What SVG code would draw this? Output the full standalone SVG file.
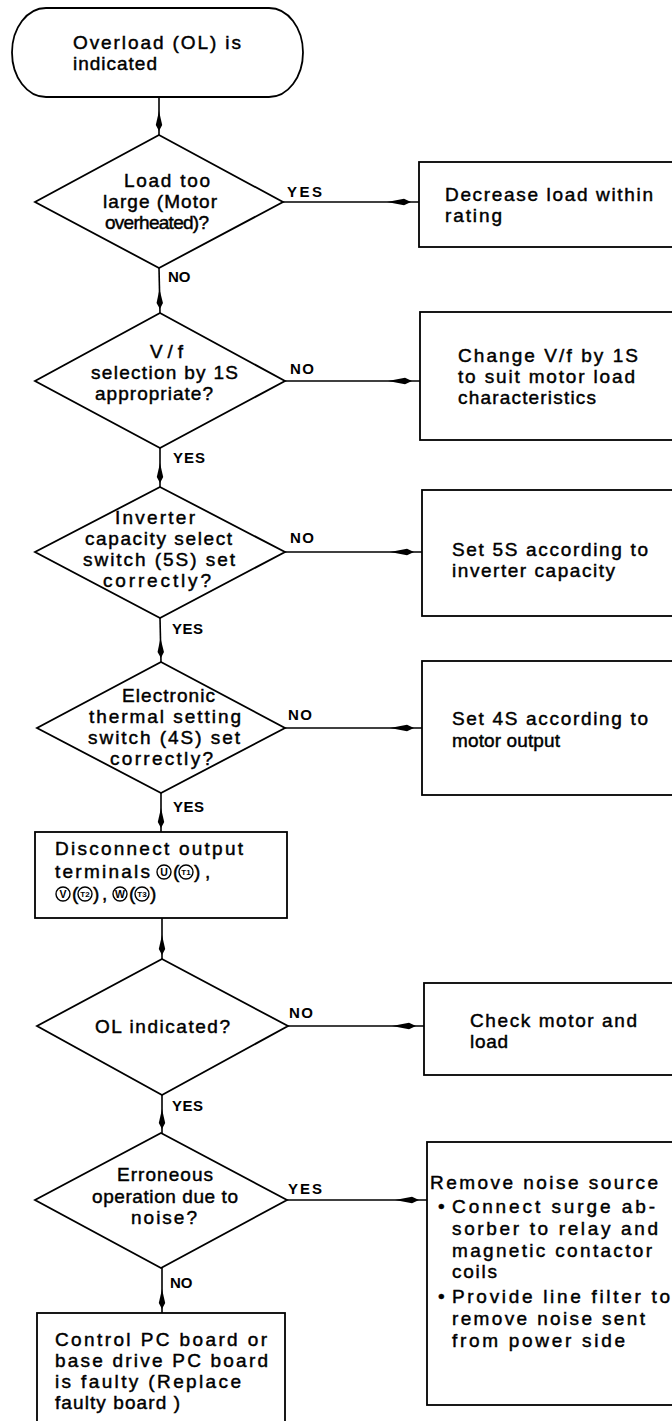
<svg xmlns="http://www.w3.org/2000/svg" width="672" height="1421" viewBox="0 0 672 1421">
<style>
.bg{fill:#fff}
.shape{fill:#fff;stroke:#000;stroke-width:1.8}
.line{fill:none;stroke:#000;stroke-width:1.6}
.t{font-family:"Liberation Sans",Arial,Helvetica,sans-serif;font-size:19px;fill:#000;stroke:#000;stroke-width:0.45}
.lbl{font-family:"Liberation Sans",Arial,Helvetica,sans-serif;font-size:15px;font-weight:bold;fill:#000}
.ct{font-family:"Liberation Sans",Arial,Helvetica,sans-serif;font-weight:bold;fill:#000;text-anchor:middle}
.circ{fill:none;stroke:#000;stroke-width:1.4}
</style>
<defs>
<marker id="av" markerUnits="userSpaceOnUse" orient="auto" refX="4" refY="0" markerWidth="22" markerHeight="8" overflow="visible">
<polygon points="-20,0 -6,-3.2 0,0 -6,3.2" fill="#000"/>
</marker>
<marker id="ah" markerUnits="userSpaceOnUse" orient="auto" refX="8" refY="0" markerWidth="26" markerHeight="8" overflow="visible">
<polygon points="-24,0 -7,-3.2 0,0 -7,3.2" fill="#000"/>
</marker>
</defs>
<rect class="bg" x="0" y="0" width="672" height="1421"/>

<g id="connectors">
<line class="line" x1="159" y1="97" x2="159" y2="135" marker-end="url(#av)"/>
<line class="line" x1="159" y1="268" x2="160" y2="313" marker-end="url(#av)"/>
<line class="line" x1="160" y1="448" x2="160" y2="487" marker-end="url(#av)"/>
<line class="line" x1="160" y1="618" x2="161" y2="662" marker-end="url(#av)"/>
<line class="line" x1="161" y1="793" x2="161" y2="832" marker-end="url(#av)"/>
<line class="line" x1="162" y1="918" x2="162" y2="959" marker-end="url(#av)"/>
<line class="line" x1="162" y1="1095" x2="162" y2="1133" marker-end="url(#av)"/>
<line class="line" x1="162" y1="1268" x2="162" y2="1313" marker-end="url(#av)"/>
<line class="line" x1="283" y1="202" x2="419" y2="202" marker-end="url(#ah)"/>
<line class="line" x1="285" y1="381" x2="420" y2="381" marker-end="url(#ah)"/>
<line class="line" x1="285" y1="552" x2="422" y2="552" marker-end="url(#ah)"/>
<line class="line" x1="285" y1="728" x2="422" y2="728" marker-end="url(#ah)"/>
<line class="line" x1="288" y1="1026" x2="424" y2="1026" marker-end="url(#ah)"/>
<line class="line" x1="287" y1="1200" x2="427" y2="1200" marker-end="url(#ah)"/>
<text class="lbl" x="287" y="197" textLength="35" lengthAdjust="spacing">YES</text>
<text class="lbl" x="168" y="282">NO</text>
<text class="lbl" x="290" y="374" textLength="24" lengthAdjust="spacing">NO</text>
<text class="lbl" x="173" y="463" textLength="32" lengthAdjust="spacing">YES</text>
<text class="lbl" x="290" y="543" textLength="24" lengthAdjust="spacing">NO</text>
<text class="lbl" x="172" y="634" textLength="31" lengthAdjust="spacing">YES</text>
<text class="lbl" x="288" y="720" textLength="24" lengthAdjust="spacing">NO</text>
<text class="lbl" x="173" y="812" textLength="31" lengthAdjust="spacing">YES</text>
<text class="lbl" x="289" y="1018" textLength="24" lengthAdjust="spacing">NO</text>
<text class="lbl" x="172" y="1111" textLength="31" lengthAdjust="spacing">YES</text>
<text class="lbl" x="288" y="1194" textLength="34" lengthAdjust="spacing">YES</text>
<text class="lbl" x="170" y="1288">NO</text>
</g>

<g id="start">
<rect class="shape" x="12" y="8" width="291" height="89" rx="34" ry="44.5"/>
<text class="t" x="73" y="49" textLength="168" lengthAdjust="spacing">Overload (OL) is</text>
<text class="t" x="73" y="70" textLength="84" lengthAdjust="spacing">indicated</text>
</g>

<g id="d-load">
<polygon class="shape" points="159,135 283,202 159,268 35,202"/>
<text class="t" x="124" y="187" textLength="86" lengthAdjust="spacing">Load too</text>
<text class="t" x="103" y="208" textLength="114" lengthAdjust="spacing">large (Motor</text>
<text class="t" x="105" y="229" font-size="17.5" textLength="104" lengthAdjust="spacing">overheated)?</text>
</g>

<g id="b-decrease">
<rect class="shape" x="419" y="162" width="270" height="85"/>
<text class="t" x="445" y="201" textLength="208" lengthAdjust="spacing">Decrease load within</text>
<text class="t" x="445" y="222" textLength="57" lengthAdjust="spacing">rating</text>
</g>

<g id="d-vf">
<polygon class="shape" points="160,313 285,381 160,448 35,381"/>
<text class="t" x="150" y="358" textLength="33" lengthAdjust="spacing">V/f</text>
<text class="t" x="91" y="379" textLength="147" lengthAdjust="spacing">selection by 1S</text>
<text class="t" x="95" y="400" textLength="118" lengthAdjust="spacing">appropriate?</text>
</g>

<g id="b-vf">
<rect class="shape" x="420" y="312" width="270" height="128"/>
<text class="t" x="458" y="362" textLength="180" lengthAdjust="spacing">Change V/f by 1S</text>
<text class="t" x="458" y="383" textLength="177" lengthAdjust="spacing">to suit motor load</text>
<text class="t" x="458" y="404" textLength="138" lengthAdjust="spacing">characteristics</text>
</g>

<g id="d-5s">
<polygon class="shape" points="160,487 285,552 160,618 35,552"/>
<text class="t" x="115" y="524" textLength="80" lengthAdjust="spacing">Inverter</text>
<text class="t" x="85" y="545" textLength="147" lengthAdjust="spacing">capacity select</text>
<text class="t" x="83" y="566" textLength="152" lengthAdjust="spacing">switch (5S) set</text>
<text class="t" x="103" y="587" textLength="108" lengthAdjust="spacing">correctly?</text>
</g>

<g id="b-5s">
<rect class="shape" x="422" y="490" width="268" height="126"/>
<text class="t" x="452" y="556" textLength="196" lengthAdjust="spacing">Set 5S according to</text>
<text class="t" x="452" y="577" textLength="163" lengthAdjust="spacing">inverter capacity</text>
</g>

<g id="d-4s">
<polygon class="shape" points="161,662 285,728 161,793 37,728"/>
<text class="t" x="122" y="702" textLength="93" lengthAdjust="spacing">Electronic</text>
<text class="t" x="89" y="723" textLength="152" lengthAdjust="spacing">thermal setting</text>
<text class="t" x="88" y="744" textLength="152" lengthAdjust="spacing">switch (4S) set</text>
<text class="t" x="110" y="765" textLength="103" lengthAdjust="spacing">correctly?</text>
</g>

<g id="b-4s">
<rect class="shape" x="422" y="661" width="268" height="134"/>
<text class="t" x="452" y="725" textLength="196" lengthAdjust="spacing">Set 4S according to</text>
<text class="t" x="452" y="747" textLength="108" lengthAdjust="spacing">motor output</text>
</g>

<g id="b-disconnect">
<rect class="shape" x="35" y="832" width="252" height="86"/>
<text class="t" x="55" y="855" textLength="188" lengthAdjust="spacing">Disconnect output</text>
<text class="t" x="55" y="878" textLength="95" lengthAdjust="spacing">terminals</text>
<circle class="circ" cx="164" cy="872" r="7"/>
<text class="ct" x="164" y="876" font-size="10.5">U</text>
<text class="t" x="173" y="878">(</text>
<circle class="circ" cx="186" cy="872" r="7"/>
<text class="ct" x="186" y="875" font-size="8">T1</text>
<text class="t" x="194" y="878">)</text>
<text class="t" x="205" y="878">,</text>
<circle class="circ" cx="63" cy="894" r="7"/>
<text class="ct" x="63" y="898" font-size="10.5">V</text>
<text class="t" x="72" y="900">(</text>
<circle class="circ" cx="85" cy="894" r="7"/>
<text class="ct" x="85" y="897" font-size="8">T2</text>
<text class="t" x="93" y="900">)</text>
<text class="t" x="102" y="900">,</text>
<circle class="circ" cx="120" cy="894" r="7"/>
<text class="ct" x="120" y="898" font-size="10.5">W</text>
<text class="t" x="129" y="900">(</text>
<circle class="circ" cx="142" cy="894" r="7"/>
<text class="ct" x="142" y="897" font-size="8">T3</text>
<text class="t" x="150" y="900">)</text>
</g>

<g id="d-ol">
<polygon class="shape" points="162,959 288,1026 162,1095 37,1026"/>
<text class="t" x="95" y="1033" textLength="135" lengthAdjust="spacing">OL indicated?</text>
</g>

<g id="b-check">
<rect class="shape" x="424" y="983" width="266" height="92"/>
<text class="t" x="470" y="1027" textLength="167" lengthAdjust="spacing">Check motor and</text>
<text class="t" x="470" y="1048" textLength="38" lengthAdjust="spacing">load</text>
</g>

<g id="d-noise">
<polygon class="shape" points="161,1133 287,1200 161,1268 35,1200"/>
<text class="t" x="117" y="1181" textLength="96" lengthAdjust="spacing">Erroneous</text>
<text class="t" x="92" y="1203" textLength="146" lengthAdjust="spacing">operation due to</text>
<text class="t" x="131" y="1224" textLength="66" lengthAdjust="spacing">noise?</text>
</g>

<g id="b-noise">
<rect class="shape" x="427" y="1142" width="263" height="263"/>
<text class="t" x="430" y="1189" textLength="228" lengthAdjust="spacing">Remove noise source</text>
<text class="t" x="438" y="1213">•</text>
<text class="t" x="452" y="1213" textLength="203" lengthAdjust="spacing">Connect surge ab-</text>
<text class="t" x="452" y="1235" textLength="206" lengthAdjust="spacing">sorber to relay and</text>
<text class="t" x="452" y="1257" textLength="200" lengthAdjust="spacing">magnetic contactor</text>
<text class="t" x="452" y="1278" textLength="45" lengthAdjust="spacing">coils</text>
<text class="t" x="438" y="1303">•</text>
<text class="t" x="452" y="1303" textLength="218" lengthAdjust="spacing">Provide line filter to</text>
<text class="t" x="452" y="1325" textLength="193" lengthAdjust="spacing">remove noise sent</text>
<text class="t" x="452" y="1347" textLength="173" lengthAdjust="spacing">from power side</text>
</g>

<g id="b-faulty">
<rect class="shape" x="37" y="1313" width="248" height="130"/>
<text class="t" x="55" y="1346" textLength="212" lengthAdjust="spacing">Control PC board or</text>
<text class="t" x="55" y="1367" textLength="213" lengthAdjust="spacing">base drive PC board</text>
<text class="t" x="55" y="1388" textLength="186" lengthAdjust="spacing">is faulty (Replace</text>
<text class="t" x="55" y="1409" textLength="125" lengthAdjust="spacing">faulty board )</text>
</g>
</svg>
